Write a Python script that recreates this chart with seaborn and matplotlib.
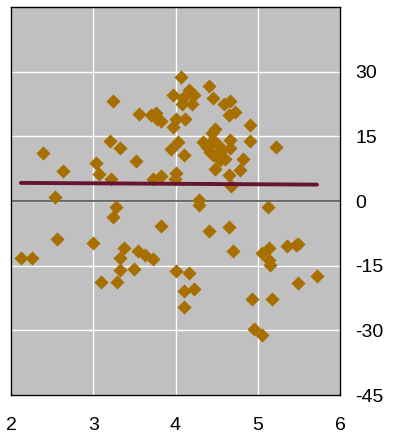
import matplotlib
matplotlib.use("Agg")
import matplotlib.pyplot as plt
import seaborn as sns
import pandas as pd

x_vals = [2.12, 2.26, 2.39, 2.53, 2.56, 2.63, 3.00, 3.03, 3.07, 3.10,
          3.20, 3.22, 3.24, 3.24, 3.28, 3.29, 3.32, 3.32, 3.33, 3.37,
          3.49, 3.52, 3.55, 3.56, 3.63, 3.70, 3.73, 3.73, 3.76, 3.77,
          3.82, 3.82, 3.82, 3.95, 3.97, 3.97, 3.99, 4.01, 4.01, 4.01,
          4.03, 4.07, 4.08, 4.09, 4.10, 4.10, 4.10, 4.12, 4.17, 4.17,
          4.20, 4.22, 4.22, 4.29, 4.29, 4.34, 4.38, 4.41, 4.41, 4.42,
          4.44, 4.45, 4.46, 4.46, 4.48, 4.48, 4.52, 4.54, 4.56, 4.59,
          4.60, 4.65, 4.65, 4.65, 4.66, 4.66, 4.66, 4.68, 4.70, 4.72,
          4.78, 4.82, 4.90, 4.91, 4.93, 4.95, 5.05, 5.05, 5.12, 5.14,
          5.14, 5.15, 5.17, 5.22, 5.36, 5.47, 5.49, 5.49, 5.72]
y_vals = [-13.3, -13.3, 11.2, 0.9, -8.8, 7.0, -9.7, 8.8, 6.2, -18.7,
          14.0, 5.2, 23.3, -3.7, -1.4, -18.7, 12.2, -15.9, -13.3, -10.9,
          -15.7, 9.3, -11.5, 20.1, -12.5, 19.9, 5.0, -13.4, 20.5, 19.1,
          18.5, 5.8, -5.9, 12.0, 24.7, 17.2, 5.2, 19.1, 6.6, -16.3,
          13.7, 28.8, 22.6, 23.8, 10.6, -20.8, -24.7, 19.1, 25.7, -16.7,
          22.6, 24.6, -20.4, 0.2, -1.0, 13.7, 12.5, 26.7, -7.0, 11.4,
          15.7, 24.0, 14.1, 10.6, 16.8, 7.5, 13.0, 9.5, 11.8, 22.4,
          9.8, 19.9, 6.1, -6.0, 23.2, 14.1, 12.2, 3.5, -11.6, 20.7,
          7.3, 9.8, 17.6, 13.9, -22.7, -29.7, -31.1, -12.1, -1.4, -10.9,
          -13.8, -14.8, -22.7, 12.6, -10.5, -10.2, -10.0, -19.0, -17.5]

# fitted trend across the observed x range
trend_x = [2.12, 5.72]
trend_y = [4.2, 3.8]

x_ticks = [2, 3, 4, 5, 6]
y_ticks = [-45, -30, -15, 0, 15, 30]

df = pd.DataFrame({"x": x_vals, "y": y_vals})
trend = pd.DataFrame({"x": trend_x, "y": trend_y})

sns.set_theme(style="whitegrid")
plt.rcParams["font.family"] = ["Liberation Sans", "DejaVu Sans"]
plt.rcParams["axes.unicode_minus"] = False

fig = plt.figure(figsize=(3.94, 4.40), dpi=100)
ax = fig.add_axes([11 / 394, 45 / 440, 329 / 394, 388 / 440])
ax.set_facecolor("#c0c0c0")

sns.scatterplot(data=df, x="x", y="y", ax=ax, marker="D", s=52,
                color="#a66f00", linewidth=0, alpha=1, zorder=3)
sns.lineplot(data=trend, x="x", y="y", ax=ax, color="#661530",
             linewidth=2.8, zorder=4)

ax.axhline(0, color="#555555", linewidth=1.2, zorder=2)

ax.set_xlim(2, 6)
ax.set_ylim(-45, 45)
ax.set_xticks(x_ticks)
ax.set_yticks(y_ticks)
ax.grid(True, color="white", linewidth=1.0, zorder=1)
ax.set_axisbelow(True)

ax.yaxis.tick_right()
ax.tick_params(axis="both", length=0, labelsize=14, colors="black")
ax.tick_params(axis="y", pad=11)
ax.tick_params(axis="x", pad=16)
for lbl in ax.get_yticklabels():
    lbl.set_horizontalalignment("left")

ax.set_xlabel("")
ax.set_ylabel("")
for side in ["left", "right", "top", "bottom"]:
    ax.spines[side].set_visible(True)
    ax.spines[side].set_color("black")
    ax.spines[side].set_linewidth(1.0)

fig.savefig("out.png", dpi=100)
